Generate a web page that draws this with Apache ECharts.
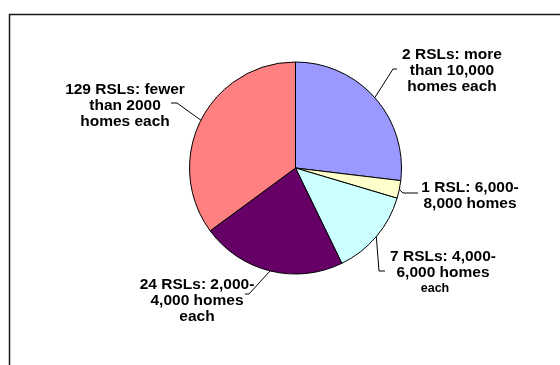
<!DOCTYPE html>
<html>
<head>
<meta charset="utf-8">
<script src="https://cdn.jsdelivr.net/npm/echarts@6/dist/echarts.min.js"></script>
<style>
  html, body { margin: 0; padding: 0; background: #fff; }
  #chart { width: 560px; height: 365px; }
</style>
</head>
<body>
<div id="chart"></div>
<script>
// Housing associations grouped by size: share of all homes held by each group
const groupLabels = [
  '{a|2 RSLs: more}\n{a|than 10,000}\n{a|homes each}',
  '{a|1 RSL: 6,000-}\n{a|8,000 homes}',
  '{a|7 RSLs: 4,000-}\n{a|6,000 homes}\n{b|each}',
  '{a|24 RSLs: 2,000-}\n{a|4,000 homes}\n{a|each}',
  '{a|129 RSLs: fewer}\n{a|than 2000}\n{a|homes each}'
];
const shareOfHomes = [26.9, 2.7, 13.2, 22.1, 35.1];
const sliceColors = ['#9999FF', '#FFFFCC', '#CCFFFF', '#660066', '#FF8080'];

// Where each text block sits (top-centre) and how its leader bends
const labelPlacement = [
  { x: 452, y: 47,  elbow: [393, 69],  end: [397, 69] },
  { x: 470, y: 180, elbow: [403, 193], end: [418, 193] },
  { x: 443, y: 249, elbow: [379, 271], end: [385, 271] },
  { x: 197, y: 277, elbow: [249, 294], end: [245, 294] },
  { x: 125, y: 82,  elbow: [177, 103], end: [171, 103] }
];

const chart = echarts.init(document.getElementById('chart'), null, { renderer: 'canvas' });

const textFont = '"Liberation Sans", Arial, sans-serif';

chart.setOption({
  animation: false,
  backgroundColor: '#ffffff',
  graphic: [{
    type: 'rect',
    silent: true,
    shape: { x: 9.5, y: 14.5, width: 620, height: 420 },
    style: { fill: 'none', stroke: '#1a1a1a', lineWidth: 1.5 }
  }],
  series: [{
    type: 'pie',
    center: [295.5, 168],
    radius: 106,
    startAngle: 90,
    clockwise: true,
    silent: true,
    emphasis: { disabled: true },
    itemStyle: { borderColor: '#000', borderWidth: 1 },
    label: {
      show: true,
      position: 'outside',
      formatter: p => groupLabels[p.dataIndex],
      rich: {
        a: { fontFamily: textFont, fontWeight: 'bold', fontSize: 15.5, lineHeight: 16, color: '#000' },
        b: { fontFamily: textFont, fontWeight: 'bold', fontSize: 12.5, lineHeight: 16, color: '#000', padding: [0, 16, 0, 0] }
      }
    },
    labelLine: {
      show: true,
      length: 10,
      length2: 10,
      lineStyle: { color: '#000', width: 1 }
    },
    labelLayout: function (params) {
      const spot = labelPlacement[params.dataIndex];
      const start = params.labelLinePoints ? params.labelLinePoints[0] : spot.elbow;
      return {
        x: spot.x,
        y: spot.y,
        align: 'center',
        verticalAlign: 'top',
        labelLinePoints: [start, spot.elbow, spot.end]
      };
    },
    data: shareOfHomes.map((v, i) => ({
      value: v,
      itemStyle: { color: sliceColors[i] }
    }))
  }]
});
</script>
</body>
</html>
